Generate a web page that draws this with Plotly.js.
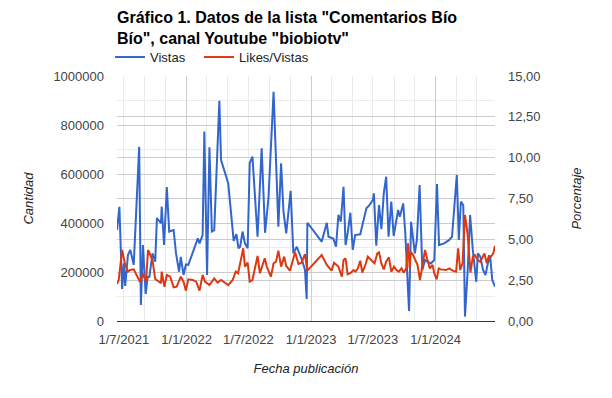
<!DOCTYPE html>
<html>
<head>
<meta charset="utf-8">
<script src="https://cdn.plot.ly/plotly-3.0.1.min.js"></script>
<style>html,body{margin:0;padding:0;background:#fff;}#chart{width:612px;height:398px;}</style>
</head>
<body>
<div id="chart"></div>
<script>
const chartTitle = 'Gráfico 1. Datos de la lista "Comentarios Bío<br>Bío", canal Youtube "biobiotv"';
const seriesNames = ['Vistas', 'Likes/Vistas'];
const xTickVals = ['2021-07-01','2022-01-01','2022-07-01','2023-01-01','2023-07-01','2024-01-01'];
const xTickText = ['1/7/2021','1/1/2022','1/7/2022','1/1/2023','1/7/2023','1/1/2024'];

const vistasFechas = ['2021-06-11','2021-06-18','2021-06-26','2021-07-01','2021-07-05','2021-07-13','2021-07-20','2021-07-30','2021-08-15','2021-08-20',
'2021-08-26','2021-09-03','2021-09-09','2021-09-14','2021-09-23','2021-10-01','2021-10-06','2021-10-14','2021-10-18','2021-10-20',
'2021-10-27','2021-11-04','2021-11-11','2021-11-24','2021-12-01','2021-12-10','2021-12-15','2021-12-23','2021-12-30','2022-01-06',
'2022-01-16','2022-01-26','2022-02-03','2022-02-08','2022-02-17','2022-02-22','2022-03-02','2022-03-09','2022-03-16','2022-03-23',
'2022-04-07','2022-04-12','2022-04-23','2022-05-03','2022-05-19','2022-05-23','2022-05-27','2022-06-02','2022-06-07','2022-06-14',
'2022-06-21','2022-06-29','2022-07-05','2022-07-13','2022-07-28','2022-08-09','2022-08-19','2022-08-29','2022-09-13','2022-09-27',
'2022-10-05','2022-10-12','2022-10-20','2022-11-02','2022-11-10','2022-11-20','2022-11-30','2022-12-07','2022-12-14','2022-12-19',
'2022-12-21','2023-02-01','2023-02-16','2023-02-21','2023-03-07','2023-03-15','2023-03-22','2023-03-29','2023-04-06','2023-04-12',
'2023-04-18','2023-04-26','2023-05-03','2023-05-10','2023-05-25','2023-06-12','2023-06-21','2023-07-01','2023-07-04','2023-07-11',
'2023-07-19','2023-07-26','2023-08-02','2023-08-09','2023-08-16','2023-08-24','2023-08-31','2023-09-13','2023-09-18','2023-09-28',
'2023-10-04','2023-10-15','2023-10-21','2023-11-01','2023-11-07','2023-11-15','2023-11-23','2023-12-01','2023-12-08','2023-12-18',
'2023-12-28','2024-01-05','2024-01-11','2024-01-26','2024-02-10','2024-02-18','2024-03-03','2024-03-09','2024-03-15','2024-03-22',
'2024-03-27','2024-04-04','2024-04-11','2024-04-19','2024-04-29','2024-05-04','2024-05-11','2024-05-19','2024-05-26','2024-06-02',
'2024-06-09','2024-06-15','2024-06-23'];
const vistas = [371000,466000,131000,235000,143000,269000,290000,229000,711000,65000,
310000,110000,181000,181000,276000,242000,420000,405000,399000,467000,
310000,547000,365000,371000,276000,201000,262000,188000,231000,229000,
269000,300000,337000,317000,351000,773000,188000,709000,365000,371000,
899000,657000,609000,562000,327000,344000,355000,297000,303000,365000,
317000,297000,644000,671000,344000,705000,360000,502000,936000,385000,
644000,446000,358000,531000,276000,303000,269000,242000,208000,90000,
401000,324000,401000,344000,337000,303000,433000,405000,548000,310000,
358000,442000,290000,351000,354000,460000,473000,494000,521000,307000,
473000,375000,521000,589000,344000,487000,347000,453000,426000,480000,
358000,41000,405000,276000,331000,555000,208000,249000,242000,235000,
249000,559000,310000,317000,331000,344000,596000,331000,487000,473000,
18000,208000,433000,290000,160000,276000,262000,208000,188000,235000,
262000,167000,140000];

const ratioFechas = ['2021-06-11','2021-06-16','2021-06-26','2021-07-05','2021-07-13','2021-07-20','2021-07-30','2021-08-09','2021-08-18','2021-08-25',
'2021-09-04','2021-09-10','2021-09-16','2021-09-23','2021-10-01','2021-10-11','2021-10-18','2021-10-20','2021-10-28','2021-11-04',
'2021-11-14','2021-11-24','2021-12-03','2021-12-15','2021-12-23','2021-12-30','2022-01-06','2022-01-19','2022-01-29','2022-02-08',
'2022-02-17','2022-02-24','2022-03-09','2022-03-23','2022-04-02','2022-04-12','2022-04-22','2022-05-03','2022-05-16','2022-05-25',
'2022-06-01','2022-06-09','2022-06-16','2022-06-21','2022-06-29','2022-07-05','2022-07-13','2022-07-28','2022-08-04','2022-08-18',
'2022-08-24','2022-09-05','2022-09-13','2022-09-20','2022-09-27','2022-10-05','2022-10-14','2022-10-20','2022-10-31','2022-11-15',
'2022-11-25','2022-12-04','2022-12-14','2022-12-21','2023-02-01','2023-02-16','2023-03-02','2023-03-09','2023-03-22','2023-04-01',
'2023-04-06','2023-04-12','2023-04-18','2023-04-28','2023-05-05','2023-05-11','2023-05-18','2023-05-25','2023-05-31','2023-06-10',
'2023-06-16','2023-06-26','2023-07-06','2023-07-14','2023-07-19','2023-07-26','2023-08-02','2023-08-09','2023-08-17','2023-08-24',
'2023-09-01','2023-09-08','2023-09-15','2023-09-23','2023-09-29','2023-10-07','2023-10-12','2023-10-17','2023-10-20','2023-10-27',
'2023-11-06','2023-11-09','2023-11-16','2023-11-23','2023-12-01','2023-12-08','2023-12-15','2023-12-23','2023-12-28','2024-01-04',
'2024-01-10','2024-01-16','2024-01-31','2024-02-10','2024-02-20','2024-03-01','2024-03-07','2024-03-13','2024-03-20','2024-03-27',
'2024-04-04','2024-04-12','2024-04-19','2024-04-25','2024-05-03','2024-05-11','2024-05-23','2024-05-30','2024-06-05','2024-06-11',
'2024-06-18','2024-06-23'];
const ratio = [2.27,2.51,4.35,3.43,3.02,3.12,3.16,2.71,2.37,2.92,
2.41,4.35,4.04,3.73,2.57,2.41,2.31,3.02,2.10,2.82,
2.71,2.06,2.10,2.71,2.41,1.86,2.55,2.51,2.41,1.86,
2.82,2.41,2.20,2.61,2.35,2.51,2.35,2.20,2.51,3.02,
2.92,3.63,4.45,3.33,3.57,2.41,2.51,3.98,2.92,3.84,
3.33,2.71,3.53,3.63,4.30,3.33,3.94,3.37,3.08,4.20,
3.49,3.57,4.10,3.08,4.04,3.43,3.08,3.57,3.33,2.71,
3.73,3.84,2.86,2.96,3.12,3.02,3.22,3.69,2.96,3.49,
3.94,3.73,3.53,4.14,4.20,3.53,3.16,3.63,3.90,3.02,
3.33,3.12,3.02,3.22,2.96,3.22,4.76,3.22,4.24,4.04,
3.53,3.43,2.51,3.43,4.35,3.73,3.22,3.43,2.92,2.55,
3.22,3.16,3.12,3.22,3.08,3.02,4.45,3.12,3.57,6.49,
5.27,2.96,3.94,4.04,3.73,3.63,4.14,3.53,3.98,3.94,
4.14,4.61];

const FONT = '"Liberation Sans", Arial, sans-serif';
const xRange = ['2021-06-11', '2024-06-23'];

const traces = [
  {x: vistasFechas, y: vistas, name: seriesNames[0], type: 'scatter', mode: 'lines',
   line: {color: '#3366cc', width: 2}, xaxis: 'x', yaxis: 'y', legend: 'legend'},
  {x: ratioFechas, y: ratio, name: seriesNames[1], type: 'scatter', mode: 'lines',
   line: {color: '#dc3912', width: 2}, xaxis: 'x2', yaxis: 'y2', legend: 'legend2'}
];

const legendFont = {family: FONT, size: 13, color: '#222'};

const layout = {
  width: 612, height: 398,
  margin: {l: 117, r: 117, t: 76, b: 77},
  paper_bgcolor: '#fff', plot_bgcolor: '#fff',
  separators: ',.',
  font: {family: FONT, size: 13, color: '#444'},
  title: {text: chartTitle, x: 0, xref: 'paper', xanchor: 'left', y: 1, yref: 'container', yanchor: 'top',
          pad: {t: 23}, font: {family: FONT, size: 16, color: '#000', weight: 'bold'}},
  showlegend: true,
  legend: {orientation: 'h', x: -0.0185, xanchor: 'left', y: 1.016, yanchor: 'bottom',
           font: legendFont, bgcolor: 'rgba(0,0,0,0)'},
  legend2: {orientation: 'h', x: 0.217, xanchor: 'left', y: 1.016, yanchor: 'bottom',
           font: legendFont, bgcolor: 'rgba(0,0,0,0)'},
  xaxis: {type: 'date', range: xRange, tickmode: 'linear', tick0: '2022-01-01', dtick: 'M12',
          showticklabels: false, showgrid: true, gridcolor: '#cccccc', gridwidth: 1,
          zeroline: false, showline: false, ticks: '',
          minor: {tickmode: 'linear', tick0: '2021-07-01', dtick: 'M2', showgrid: true, gridcolor: '#ebebeb', gridwidth: 1}},
  xaxis2: {type: 'date', range: xRange, overlaying: 'x', side: 'bottom', anchor: 'y2',
           tickmode: 'array', tickvals: xTickVals, ticktext: xTickText, showgrid: false,
           showline: true, linecolor: '#333', linewidth: 1, ticks: '', ticklabelstandoff: 6,
           tickfont: {family: FONT, size: 13, color: '#444'},
           title: {text: 'Fecha publicación', standoff: 18, font: {family: FONT, size: 13, color: '#222', style: 'italic'}}},
  yaxis: {range: [0, 1000000], tickmode: 'linear', tick0: 0, dtick: 200000, tickformat: 'd',
          showgrid: true, gridcolor: '#cccccc', zeroline: false, ticks: '', ticklabelstandoff: 12,
          tickfont: {family: FONT, size: 13, color: '#444'},
          minor: {tickmode: 'linear', tick0: 0, dtick: 100000, showgrid: true, gridcolor: '#ebebeb'},
          title: {text: 'Cantidad', standoff: 16, font: {family: FONT, size: 13, color: '#222', style: 'italic'}}},
  yaxis2: {range: [0, 15], overlaying: 'y', side: 'right', anchor: 'x2', tickmode: 'linear', tick0: 0, dtick: 2.5,
           tickformat: '.2f', showgrid: true, gridcolor: '#cccccc', zeroline: false, ticks: '', ticklabelstandoff: 12,
           tickfont: {family: FONT, size: 13, color: '#444'},
           title: {text: 'Porcentaje', standoff: 32, font: {family: FONT, size: 13, color: '#222', style: 'italic'}}}
};

Plotly.newPlot('chart', traces, layout, {displayModeBar: false, staticPlot: true});
</script>
</body>
</html>
